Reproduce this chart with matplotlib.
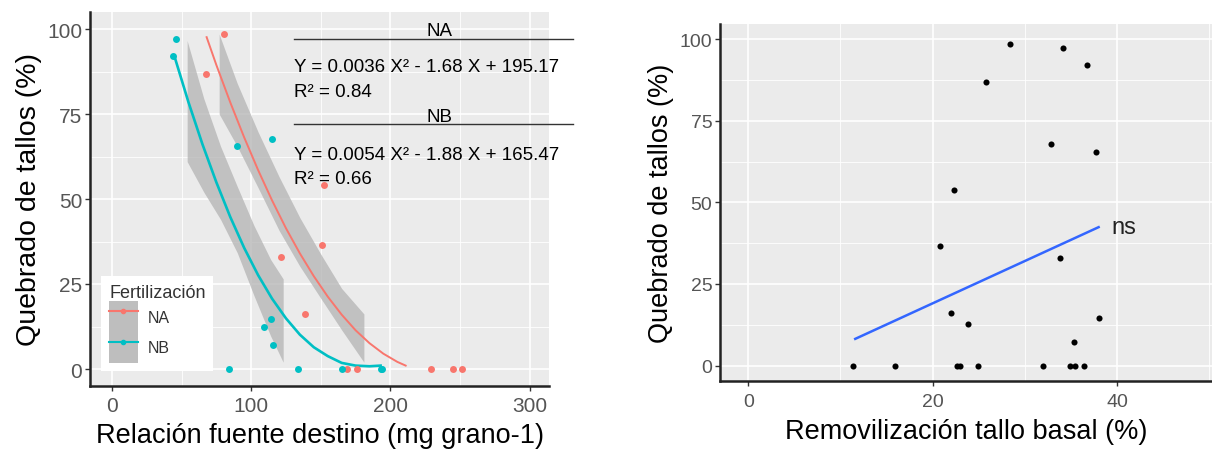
import matplotlib
matplotlib.use("Agg")
import matplotlib.pyplot as plt
from matplotlib.patches import Patch
from matplotlib.lines import Line2D
from matplotlib.ticker import MultipleLocator

plt.rcParams['font.family'] = ['Liberation Sans', 'DejaVu Sans']

# --- left panel: relación fuente destino vs quebrado ---
na_x = [80.6, 67.4, 152, 151, 121.6, 139, 169, 176, 229.5, 245, 251.6]
na_y = [98.5, 86.8, 54, 36.5, 33, 16.2, 0, 0, 0, 0, 0]
nb_x = [45.8, 44, 90, 115, 109, 114, 116, 84, 134, 165, 193, 194]
nb_y = [97, 92, 65.5, 67.6, 12.4, 14.7, 7.1, 0, 0, 0, 0, 0]

# fitted curves
na_fit_x = [68, 75, 85, 95, 105, 115, 125, 135, 145, 155, 165, 175, 185, 195, 205, 211]
na_fit_y = [97.6, 89.4, 78.4, 68.1, 58.5, 49.6, 41.4, 34.0, 27.3, 21.3, 16.0, 11.4, 7.6, 4.5, 2.1, 1.0]
nb_fit_x = [45, 55, 65, 75, 85, 95, 105, 115, 125, 135, 145, 155, 165, 175, 185, 193]
nb_fit_y = [91.8, 78.4, 66.1, 54.9, 44.7, 35.6, 27.6, 20.7, 14.9, 10.1, 6.4, 3.8, 1.8, 1.0, 0.8, 1.0]

# confidence bands
na_band_x = [77, 90, 105, 120, 135, 150, 165, 181]
na_band_lo = [75, 65.5, 53.3, 40.8, 30.2, 20.8, 11.5, 2]
na_band_hi = [98.5, 84, 69.7, 56.6, 44.5, 33.8, 23.7, 16.2]
nb_band_x = [54, 66, 78, 90, 102, 114, 123]
nb_band_lo = [61, 52, 44, 34.2, 21.6, 9.7, 2]
nb_band_hi = [96.6, 79.5, 65.5, 53.7, 42.2, 32.2, 26.5]

# --- right panel: removilización vs quebrado ---
rem_x = [11.4, 15.9, 28.4, 34.1, 36.7, 25.8, 32.8, 37.7, 22.3, 20.8, 33.8, 22.0,
         23.8, 38.0, 35.3, 22.6, 23.0, 24.9, 32.0, 34.9, 35.4, 36.4]
rem_y = [0, 0, 98.5, 97.1, 92.2, 86.9, 67.8, 65.5, 53.9, 36.5, 33.0, 16.1,
         12.6, 14.7, 7.2, 0, 0, 0, 0, 0, 0, 0]
rem_fit_x = [11.6, 38.0]
rem_fit_y = [8.2, 42.4]

RED = '#F8766D'
CYAN = '#00BFC4'
BAND = '#B3B3B3'
W, H = 1212, 452


def style_axes(ax, xmaj, xmin, tick_size, xpad):
    ax.set_facecolor('#EBEBEB')
    ax.xaxis.set_major_locator(MultipleLocator(xmaj))
    ax.xaxis.set_minor_locator(MultipleLocator(xmin))
    ax.yaxis.set_major_locator(MultipleLocator(25))
    ax.yaxis.set_minor_locator(MultipleLocator(12.5))
    ax.grid(which='major', color='white', lw=1.2)
    ax.grid(which='minor', color='white', lw=0.6)
    ax.set_axisbelow(True)
    for s in ['top', 'right']:
        ax.spines[s].set_visible(False)
    for s in ['left', 'bottom']:
        ax.spines[s].set_color('#222222')
        ax.spines[s].set_linewidth(1.8)
    ax.tick_params(which='major', length=3.5, width=1, color='#333333',
                   labelsize=tick_size, labelcolor='#555555', pad=2)
    ax.tick_params(axis='x', which='major', pad=xpad)
    ax.tick_params(which='minor', length=0)


fig = plt.figure(figsize=(W / 100, H / 100), dpi=100)

ax1 = fig.add_axes([90 / W, 1 - 387 / H, 459 / W, 374 / H])
style_axes(ax1, 100, 50, 15, 4)
ax1.fill_between(na_band_x, na_band_lo, na_band_hi, color=BAND, alpha=0.75, lw=0)
ax1.fill_between(nb_band_x, nb_band_lo, nb_band_hi, color=BAND, alpha=0.75, lw=0)
ax1.plot(na_fit_x, na_fit_y, color=RED, lw=1.4)
ax1.plot(nb_fit_x, nb_fit_y, color=CYAN, lw=1.9)
ax1.plot(na_x, na_y, 'o', color=RED, ms=5, mec='none')
ax1.plot(nb_x, nb_y, 'o', color=CYAN, ms=5, mec='none')
ax1.set_xlim(-15.8, 314)
ax1.set_ylim(-5, 105)
ax1.set_xlabel('Relación fuente destino (mg grano-1)', fontsize=19.5, labelpad=5)
ax1.set_ylabel('Quebrado de tallos (%)', fontsize=20.5, labelpad=4)

handles = [(Patch(facecolor='#BEBEBE', edgecolor='none'),
            Line2D([], [], color=RED, lw=1.5, marker='o', ms=3)),
           (Patch(facecolor='#BEBEBE', edgecolor='none'),
            Line2D([], [], color=CYAN, lw=1.5, marker='o', ms=3))]
leg = ax1.legend(handles, ['NA', 'NB'], title='Fertilización', loc='lower left',
                 bbox_to_anchor=(0.024, 0.04), fontsize=11.5, title_fontsize=13,
                 frameon=True, fancybox=False, framealpha=1, edgecolor='white',
                 handlelength=1.8, handleheight=2.6, labelspacing=0,
                 handletextpad=0.6, borderpad=0.5, alignment='left',
                 borderaxespad=0)
leg.get_frame().set_linewidth(0)
leg.get_title().set_color('#333333')
for t in leg.get_texts():
    t.set_color('#333333')

# equation annotations
for label, ly, eq, r2, ey, ry in [
        ('NA', 32, 'Y = 0.0036 X² - 1.68 X + 195.17', 'R² = 0.84', 68, 93),
        ('NB', 117, 'Y = 0.0054 X² - 1.88 X + 165.47', 'R² = 0.66', 155, 180)]:
    fig.text(439 / W, 1 - ly / H, label, ha='center', va='center', fontsize=13.5)
    fig.add_artist(Line2D([294 / W, 573 / W], [1 - (ly + 8) / H] * 2,
                          color='#333333', lw=1))
    fig.text(294 / W, 1 - ey / H, eq, ha='left', va='center', fontsize=13.5)
    fig.text(294 / W, 1 - ry / H, r2, ha='left', va='center', fontsize=13.5)

ax2 = fig.add_axes([720 / W, 1 - 382 / H, 492 / W, 357 / H])
style_axes(ax2, 20, 10, 14, 5)
ax2.plot(rem_fit_x, rem_fit_y, color='#3366FF', lw=1.8)
ax2.plot(rem_x, rem_y, 'o', color='black', ms=4.4, mec='none')
ax2.text(rem_fit_x[-1] + 1.4, rem_fit_y[-1], 'ns', fontsize=17, va='center',
         color='#222222')
ax2.set_xlim(-3.07, 50.3)
ax2.set_ylim(-4.7, 104.6)
ax2.set_xlabel('Removilización tallo basal (%)', fontsize=19.5, labelpad=6)
ax2.set_ylabel('Quebrado de tallos (%)', fontsize=19.5, labelpad=4)

fig.savefig('out.png', dpi=100)
